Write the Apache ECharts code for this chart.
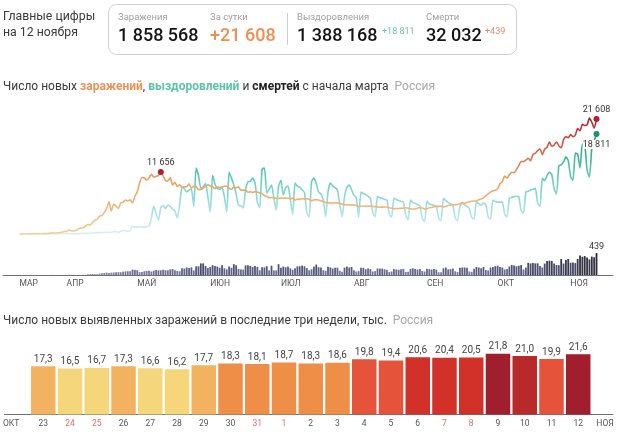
<!DOCTYPE html>
<html><head><meta charset="utf-8">
<script src="https://cdn.jsdelivr.net/npm/echarts@6/dist/echarts.min.js"></script>
<style>html,body{margin:0;padding:0;background:#fff}#c{width:620px;height:435px}</style>
</head><body><div id="c"></div>
<script>
const monthLabels = ['МАР','АПР','МАЙ','ИЮН','ИЮЛ','АВГ','СЕН','ОКТ','НОЯ'];
const monthStarts = [0,20,50,81,111,142,173,203,234];
const infections = [
6,14,4,14,4,21,33,52,54,53,62,71,57,163,182,196,228,270,302,501,
440,771,601,582,658,954,1154,1175,1459,1786,1667,2186,2558,2774,3388,3448,4070,4785,6060,4268,5642,5236,4774,5849,5966,6361,6198,6411,5841,7099,
7933,9623,10633,10581,10102,10559,11231,10699,10817,11012,11656,10899,10028,9974,10598,9200,9709,8926,9263,8764,8849,8894,9434,8599,8946,8915,8338,8371,8572,8952,9268,
9035,8863,8536,8831,8726,8855,8984,8985,8595,8404,8779,8706,8835,8246,8248,8238,7843,7972,7790,7972,7889,7728,7600,7176,7113,6800,6852,6791,6719,6693,
6760,6718,6760,6736,6611,6736,6368,6562,6509,6635,6611,6615,6537,6248,6422,6428,6406,6234,6109,5940,5842,5862,5811,5871,5848,5765,5635,5475,5509,5482,5462,
5427,5394,5159,5204,5204,5241,5212,5267,5189,5118,5102,5040,5057,5065,5061,4969,4839,4748,4790,4785,4838,4870,4921,4852,4744,4676,4711,4829,4980,4897,4729,
4729,4952,4995,5110,5185,5195,5205,5099,5172,5363,5405,5449,5509,5529,5670,5905,5762,5905,6065,6148,6196,6215,6431,6595,6800,7212,7523,7867,8135,8232,
8481,9412,9859,10888,10499,11115,11615,11493,12126,12846,13634,13592,13868,14231,13754,14936,15150,15700,15982,14922,15971,16319,17300,16500,16700,17300,16600,16200,17700,18300,18100,
18700,18300,18600,19800,19400,20600,20400,20500,21800,21000,19900,21608];
const recoveries = [
0,0,0,0,0,0,1,1,2,3,3,2,8,5,6,3,8,4,5,4,
30,45,60,50,70,60,80,100,130,120,150,180,200,220,270,240,320,300,340,280,420,460,300,500,650,600,520,600,1500,1300,
1300,1350,1300,1250,1400,1500,3000,5200,3800,2600,5000,5300,4800,5400,5200,4700,4300,3000,5500,8800,8500,7900,8300,8400,5200,12400,11000,8600,8800,9500,7000,
4100,11000,9400,8600,8400,8700,7000,4100,11600,10500,9200,7500,5400,5300,4900,8400,9800,9900,10500,9600,6000,4900,12200,12400,7700,8400,9200,6800,4500,9000,
10100,7300,8700,9000,6500,3600,9600,9000,8800,8300,7800,4000,3200,9800,10500,9500,7900,7500,6300,3200,7900,9600,9000,8700,8300,5500,3200,7000,8800,9200,8300,
7300,6800,3200,7900,7600,7400,7100,6700,4000,3200,7100,6800,6700,6500,6400,3800,3200,6700,6500,6300,6100,6000,3600,2600,6400,5900,5800,5500,5300,2900,2300,
6200,5600,5500,5400,5200,2900,2500,6700,6300,5900,5700,5500,3000,2500,5200,5800,5500,5200,4800,3100,2800,6000,5700,5400,5800,5500,3200,2800,6400,6100,
6000,6000,6000,3700,3200,6700,6900,7000,7100,7000,4400,3900,7900,8000,8300,8400,8600,5800,5200,10500,10000,11000,11600,11200,8500,7500,12800,13000,13500,14500,13800,
10800,10100,15200,15000,12400,16900,16800,12000,10700,16100,17500,18811];
const deaths = [
0,0,0,0,0,0,0,1,0,0,0,0,0,0,2,0,1,1,0,2,
0,4,2,4,2,2,1,6,4,13,18,22,18,18,28,36,41,48,41,47,51,57,57,56,66,72,76,75,108,101,
96,57,58,76,80,86,70,88,98,94,94,107,96,93,113,119,94,81,76,135,127,150,139,153,92,174,174,232,232,181,138,
162,197,178,169,144,197,134,112,171,144,216,194,119,113,109,193,194,181,161,181,161,95,153,154,176,92,188,93,93,216,
147,168,154,168,134,104,135,173,174,188,174,138,95,113,167,208,156,150,95,85,165,150,129,147,146,85,65,147,169,150,161,
95,70,77,147,144,114,129,119,70,77,130,129,127,114,104,60,70,121,110,105,114,121,61,65,122,134,121,110,119,80,70,
123,117,110,121,109,55,56,134,150,112,119,129,75,60,144,150,150,144,70,65,125,160,150,135,160,100,90,150,160,177,
186,160,150,110,120,169,201,191,174,186,200,110,150,244,231,239,232,233,181,150,229,279,286,283,229,200,196,320,229,300,320,
245,252,239,320,389,364,378,349,312,368,355,439];
const weekLabels = [23,24,25,26,27,28,29,30,31,1,2,3,4,5,6,7,8,9,10,11,12];
const weekValues = [17.3,16.5,16.7,17.3,16.6,16.2,17.7,18.3,18.1,18.7,18.3,18.6,19.8,19.4,20.6,20.4,20.5,21.8,21.0,19.9,21.6];
const weekendLabels = [24,25,31,1,7,8];
const edgeLabels = {'-1.2':'ОКТ','21':'НОЯ'};

const sp = n => String(n).replace(/\B(?=(\d{3})+$)/g,' ');
const FONT = 'Roboto, "Noto Sans", sans-serif';
const txt = (x,y,text,size,color,weight) => ({type:'text',x,y,silent:true,style:{text,font:`${weight||400} ${size}px ${FONT}`,fill:color,textVerticalAlign:'middle'}});
const pts = a => a.map((v,i)=>[i,v]);
const peakIdx = infections.slice(0,150).indexOf(Math.max(...infections.slice(0,150)));
const lastIdx = infections.length-1;

const heading1 = '{t|Число новых }{o|заражений}{t|, }{g|выздоровлений}{t| и }{b|смертей}{t| с начала марта  }{r|Россия}';
const richH = {
 t:{fontFamily:FONT,fontSize:12,color:'#3a3a3a',fontWeight:400},
 o:{fontFamily:FONT,fontSize:12,color:'#e8935a',fontWeight:700},
 g:{fontFamily:FONT,fontSize:12,color:'#5cc4a8',fontWeight:700},
 b:{fontFamily:FONT,fontSize:12,color:'#222',fontWeight:700},
 r:{fontFamily:FONT,fontSize:12,color:'#a8a8a8',fontWeight:400}
};

const chart = echarts.init(document.getElementById('c'),null,{renderer:'canvas'});
chart.setOption({
 animation:false,
 backgroundColor:'#fff',
 title:[
  {left:3,top:81,padding:0,text:heading1,textStyle:{fontWeight:400,rich:richH}},
  {left:3,top:315,padding:0,text:'{t|Число новых выявленных заражений в последние три недели, тыс.  }{r|Россия}',textStyle:{fontWeight:400,rich:richH}}
 ],
 graphic:[
  {type:'rect',shape:{x:108.5,y:4.5,width:408,height:50,r:8},style:{fill:'#fff',stroke:'#cfcfcf',lineWidth:1},silent:true},
  {type:'line',shape:{x1:287.5,y1:13,x2:287.5,y2:45},style:{stroke:'#cccccc',lineWidth:1},silent:true},
  txt(3,17,'Главные цифры',12.3,'#3a3a3a'),
  txt(3,32.5,'на 12 ноября',12.3,'#3a3a3a'),
  txt(118,18,'Заражения',9.5,'#a0a0a0'),
  txt(118,36,'1 858 568',18,'#141414',500),
  txt(210,18,'За сутки',9.5,'#a0a0a0'),
  txt(210,36,'+21 608',18,'#ee8f55',500),
  txt(297,18,'Выздоровления',9.5,'#a0a0a0'),
  txt(297,36,'1 388 168',18,'#141414',500),
  txt(382,32,'+18 811',9,'#6cc4a9'),
  txt(426,18,'Смерти',9.5,'#a0a0a0'),
  txt(426,36,'32 032',18,'#141414',500),
  txt(485,32,'+439',9,'#e8896a')
 ],
 grid:[
  {left:3,right:7,top:106,height:128},
  {left:3,right:7,top:225,height:50},
  {left:3,right:7,top:331,height:83.4}
 ],
 xAxis:[
  {gridIndex:0,type:'value',min:-7,max:252,show:false},
  {gridIndex:1,type:'value',min:-7,max:252,splitLine:{show:false},axisTick:{show:false},
   axisLine:{show:true,onZero:false,lineStyle:{color:'#6f6f7a',width:1}},
   axisLabel:{customValues:monthStarts,align:'left',margin:4,fontFamily:FONT,fontSize:8.5,color:'#555',
    formatter:v=>monthLabels[monthStarts.indexOf(v)]||''}},
  {gridIndex:2,type:'value',min:-1.455,max:21.3,splitLine:{show:false},axisTick:{show:false},
   axisLine:{show:true,onZero:false,lineStyle:{color:'#6f6f7a',width:1}},
   axisLabel:{customValues:[-1.2,...weekLabels.map((_,i)=>i),21],margin:5,fontFamily:FONT,fontSize:8.5,showMinLabel:true,showMaxLabel:true,
    formatter:v=>edgeLabels[String(v)]||String(weekLabels[v]),
    color:v=>weekendLabels.includes(weekLabels[v])?'#d8706a':'#555'}}
 ],
 yAxis:[
  {gridIndex:0,type:'value',min:0,max:24060,show:false},
  {gridIndex:1,type:'value',min:0,max:1000,show:false},
  {gridIndex:2,type:'value',min:0,max:30,show:false}
 ],
 visualMap:[
  {show:false,type:'continuous',seriesIndex:0,dimension:1,min:0,max:18800,inRange:{color:['#d6f0f3','#a5e0e4','#6fcfc6','#3cb898','#1f9c7d']}},
  {show:false,type:'continuous',seriesIndex:1,dimension:1,min:0,max:21608,inRange:{color:['#f6cb8c','#ebb77a','#e89f5f','#cf5f48','#a8242f']}},
  {show:false,type:'continuous',seriesIndex:2,dimension:1,min:0,max:439,inRange:{color:['#8f92ad','#5c6088','#3c3d55','#2a2a30']}},
  {show:false,type:'piecewise',seriesIndex:3,dimension:1,pieces:[
   {max:17,color:'#f5d67b'},{min:17,max:18,color:'#f2b25f'},{min:18,max:19,color:'#ee8e47'},
   {min:19,max:20,color:'#e4533a'},{min:20,max:20.9,color:'#d13129'},{min:20.9,max:21.5,color:'#b82a2a'},{min:21.5,color:'#a11f2c'}]}
 ],
 series:[
  {name:'Выздоровления',type:'line',xAxisIndex:0,yAxisIndex:0,data:pts(recoveries),showSymbol:false,smooth:0.2,lineStyle:{width:1.6},
   markPoint:{symbol:'circle',symbolSize:6,itemStyle:{color:'#1f8f74'},silent:true,
    label:{show:true,position:'bottom',distance:3,color:'#333',fontFamily:FONT,fontSize:9,backgroundColor:'#fff',formatter:p=>sp(p.value)},
    data:[{coord:[lastIdx,recoveries[lastIdx]],value:recoveries[lastIdx]}]}},
  {name:'Заражения',type:'line',xAxisIndex:0,yAxisIndex:0,data:pts(infections),showSymbol:false,smooth:0.2,lineStyle:{width:1.6},
   markPoint:{symbol:'circle',symbolSize:6,itemStyle:{color:'#a8242f'},silent:true,
    label:{show:true,position:'top',distance:2,color:'#333',fontFamily:FONT,fontSize:9,formatter:p=>sp(p.value)},
    data:[{coord:[peakIdx,infections[peakIdx]],value:infections[peakIdx]},{coord:[lastIdx,infections[lastIdx]],value:infections[lastIdx]}]}},
  {name:'Смерти',type:'bar',xAxisIndex:1,yAxisIndex:1,barWidth:1.8,
   data:deaths.map((v,i)=>i===lastIdx?{value:[i,v],label:{show:true,position:'top',distance:2,color:'#333',fontFamily:FONT,fontSize:9,formatter:String(v)}}:[i,v])},
  {name:'Новые',type:'bar',xAxisIndex:2,yAxisIndex:2,barWidth:24.5,data:pts(weekValues),
   label:{show:true,position:'top',distance:2,color:'#444',fontFamily:FONT,fontSize:10,formatter:p=>p.value[1].toFixed(1).replace('.',',')}}
 ]
});
</script></body></html>
